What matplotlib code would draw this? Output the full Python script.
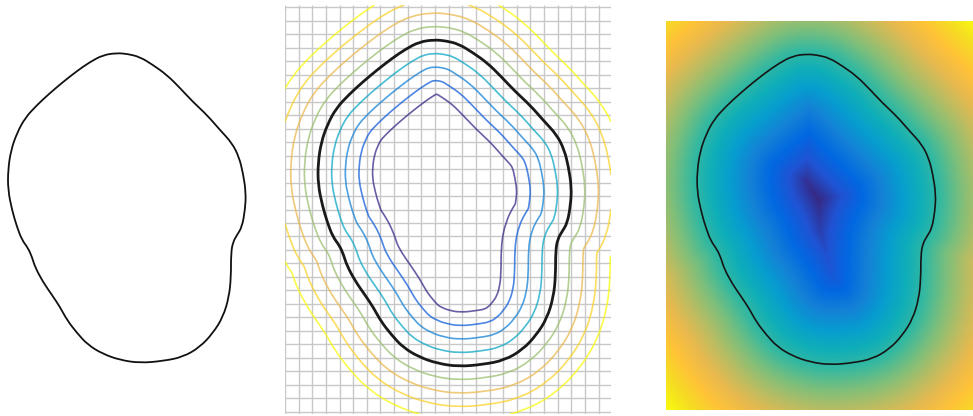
import numpy as np
import matplotlib
matplotlib.use("Agg")
import matplotlib.pyplot as plt
from matplotlib.path import Path
from matplotlib.patches import PathPatch
from matplotlib.colors import LinearSegmentedColormap

# Closed interface curve (x right, y down)
curve_x = [117, 103, 90, 77, 63, 50, 37, 25, 17, 11, 8, 8, 12, 17, 22, 28, 32, 35,
           43, 52, 60, 67, 77, 88, 103, 120, 140, 163, 183, 200, 213, 223, 229, 231,
           231, 233, 237, 242, 245, 246, 243, 239, 232, 220, 207, 193, 180, 167, 153,
           140, 128]
curve_y = [53, 55, 62, 71, 82, 93, 105, 118, 133, 150, 170, 190, 210, 227, 240, 248,
           257, 267, 282, 295, 307, 320, 333, 345, 354, 360, 363, 361, 357, 347, 333,
           317, 297, 277, 253, 242, 235, 227, 210, 193, 173, 157, 143, 130, 115, 102,
           88, 75, 65, 57, 54]

# domain of the level set grid (same units as the curve, shifted)
dom_w, dom_h = 306, 388
shift_x, shift_y = 23, -20
cell = 12.8            # grid spacing = contour spacing
level_steps = [-4, -3, -2, -1, 1, 2, 3, 4]

# parula-like colormap anchors
parula_pts = [(0.2081, 0.1663, 0.5292), (0.1253, 0.3242, 0.8303), (0.0060, 0.4086, 0.8828),
              (0.0779, 0.5040, 0.8384), (0.0265, 0.6137, 0.8135), (0.0590, 0.6838, 0.7254),
              (0.2178, 0.7250, 0.6193), (0.4871, 0.7491, 0.4840), (0.7185, 0.7411, 0.3905),
              (0.9139, 0.7258, 0.3063), (0.9990, 0.7653, 0.2164), (0.9626, 0.8705, 0.1309),
              (0.9763, 0.9831, 0.0538)]
parula = LinearSegmentedColormap.from_list("parula", parula_pts)

#%%
# smooth closed path through the traced points (quadratic bezier pieces)
pts = np.column_stack([np.array(curve_x, float) + shift_x,
                       np.array(curve_y, float) + shift_y])
mids = (pts + np.roll(pts, -1, axis=0)) / 2
verts = [mids[-1]]
codes = [Path.MOVETO]
for p, m in zip(pts, mids):
    verts += [p, m]
    codes += [Path.CURVE3, Path.CURVE3]
curve_path = Path(verts, codes)
poly = curve_path.to_polygons(closed_only=True)[0]

# signed distance field from the curve
A = poly[:-1]
B = poly[1:]
gx = np.arange(0, dom_w + 1, 1.0)
gy = np.arange(0, dom_h + 1, 1.0)
GX, GY = np.meshgrid(gx, gy)
P = np.column_stack([GX.ravel(), GY.ravel()])

dist = np.full(len(P), np.inf)
for a, b in zip(A, B):
    ab = b - a
    L = ab @ ab
    if L == 0:
        continue
    t = np.clip(((P - a) @ ab) / L, 0, 1)
    proj = a + t[:, None] * ab
    dist = np.minimum(dist, np.hypot(*(P - proj).T))
inside = Path(poly).contains_points(P)
sdf = np.where(inside, -dist, dist).reshape(GX.shape)

#%%
fig = plt.figure(figsize=(9.73, 4.16), dpi=100)
W, H = 973, 416

def px_axes(x0, y0, x1, y1):
    return fig.add_axes([x0 / W, 1 - y1 / H, (x1 - x0) / W, (y1 - y0) / H])

def draw_curve(ax, color, lw):
    ax.add_patch(PathPatch(curve_path, fill=False, edgecolor=color, lw=lw, zorder=5))

# 1. the curve alone
ax1 = px_axes(0, 0, 280, 416)
draw_curve(ax1, "#111111", 1.3)
ax1.set_xlim(shift_x, shift_x + 280)
ax1.set_ylim(416 + shift_y, shift_y)
ax1.axis("off")

# 2. grid + distance contours
ax2 = px_axes(285, 5, 611, 414)
vx = np.arange(0, 24) * cell
hy = 2 + np.arange(0, 31) * cell
ax2.vlines(vx, 0, dom_h, color="#c8c8c8", lw=1.0, zorder=0)
ax2.hlines(hy, 0, dom_w, color="#c8c8c8", lw=1.0, zorder=0)
levels = [s * cell for s in level_steps]
ax2.contour(GX, GY, sdf, levels=levels, cmap=parula, vmin=-4 * cell, vmax=4 * cell,
            linewidths=1.2, alpha=0.75)
draw_curve(ax2, "#1a1a1a", 2.0)
ax2.set_xlim(0, dom_w)
ax2.set_ylim(dom_h, 0)
ax2.axis("off")

# 3. distance field as image
ax3 = px_axes(666, 21, 973, 410)
ax3.imshow(sdf, cmap=parula, extent=[0, dom_w, dom_h, 0], origin="upper",
           interpolation="bilinear", aspect="auto")
draw_curve(ax3, "#151515", 1.2)
ax3.set_xlim(0, dom_w)
ax3.set_ylim(dom_h, 0)
ax3.axis("off")

fig.savefig("out.png", dpi=100)
